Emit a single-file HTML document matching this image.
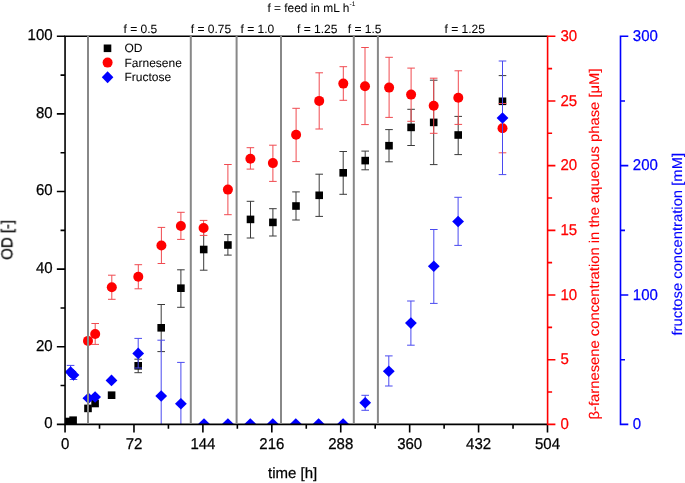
<!DOCTYPE html><html><head><meta charset="utf-8"><style>html,body{margin:0;padding:0;background:#fff;}svg{display:block;}text{font-family:"Liberation Sans",sans-serif;stroke-width:0.25px;text-rendering:geometricPrecision;}text.s{stroke-width:0.05px;}</style></head><body>
<svg width="685" height="483" viewBox="0 0 685 483">
<rect width="685" height="483" fill="#fff"/>
<defs><clipPath id="pc"><rect x="65.05" y="36.3" width="482.45" height="388.05"/></clipPath></defs>
<g clip-path="url(#pc)">
<path d="M138.2 359.2V365.8M134.4 359.2H142M138.2 365.8V372.7M134.4 372.7H142M161.2 304.5V327.8M157.4 304.5H165M161.2 327.8V351.6M157.4 351.6H165M180.9 269.8V288.2M177.1 269.8H184.7M180.9 288.2V307.3M177.1 307.3H184.7M203.7 229V249.5M199.9 229H207.5M203.7 249.5V270.2M199.9 270.2H207.5M227.9 234.6V245M224.1 234.6H231.7M227.9 245V255.1M224.1 255.1H231.7M250.5 201.3V219.4M246.7 201.3H254.3M250.5 219.4V238M246.7 238H254.3M272.9 208.7V222.4M269.1 208.7H276.7M272.9 222.4V236M269.1 236H276.7M296 191.9V206M292.2 191.9H299.8M296 206V220M292.2 220H299.8M319.2 174.2V195.3M315.4 174.2H323M319.2 195.3V216.4M315.4 216.4H323M343.2 151.5V172.8M339.4 151.5H347M343.2 172.8V194.3M339.4 194.3H347M365.2 151.1V160.6M361.4 151.1H369M365.2 160.6V169.8M361.4 169.8H369M389 129.6V145.7M385.2 129.6H392.8M389 145.7V161.8M385.2 161.8H392.8M411.1 109.3V127.4M407.3 109.3H414.9M411.1 127.4V145.5M407.3 145.5H414.9M433.7 80.2V122.4M429.9 80.2H437.5M433.7 122.4V164.6M429.9 164.6H437.5M458.2 116.4V135M454.4 116.4H462M458.2 135V154.6M454.4 154.6H462M502.5 75.6V101.3M498.7 75.6H506.3M502.5 101.3V127M498.7 127H506.3" stroke="#3a3a3a" stroke-opacity="1" stroke-width="1" fill="none"/>
<rect x="64.7" y="417.7" width="7.6" height="7.6" fill="#000000"/>
<rect x="69.3" y="416.4" width="7.6" height="7.6" fill="#000000"/>
<rect x="84.2" y="404.6" width="7.6" height="7.6" fill="#000000"/>
<rect x="91.3" y="399.7" width="7.6" height="7.6" fill="#000000"/>
<rect x="107.8" y="391.4" width="7.6" height="7.6" fill="#000000"/>
<rect x="134.4" y="362" width="7.6" height="7.6" fill="#000000"/>
<rect x="157.4" y="324" width="7.6" height="7.6" fill="#000000"/>
<rect x="177.1" y="284.4" width="7.6" height="7.6" fill="#000000"/>
<rect x="199.9" y="245.7" width="7.6" height="7.6" fill="#000000"/>
<rect x="224.1" y="241.2" width="7.6" height="7.6" fill="#000000"/>
<rect x="246.7" y="215.6" width="7.6" height="7.6" fill="#000000"/>
<rect x="269.1" y="218.6" width="7.6" height="7.6" fill="#000000"/>
<rect x="292.2" y="202.2" width="7.6" height="7.6" fill="#000000"/>
<rect x="315.4" y="191.5" width="7.6" height="7.6" fill="#000000"/>
<rect x="339.4" y="169" width="7.6" height="7.6" fill="#000000"/>
<rect x="361.4" y="156.8" width="7.6" height="7.6" fill="#000000"/>
<rect x="385.2" y="141.9" width="7.6" height="7.6" fill="#000000"/>
<rect x="407.3" y="123.6" width="7.6" height="7.6" fill="#000000"/>
<rect x="429.9" y="118.6" width="7.6" height="7.6" fill="#000000"/>
<rect x="454.4" y="131.2" width="7.6" height="7.6" fill="#000000"/>
<rect x="498.7" y="97.5" width="7.6" height="7.6" fill="#000000"/>
<path d="M95.2 323.5V334M91.4 323.5H99M95.2 334V344.4M91.4 344.4H99M111.8 275.2V287.2M108 275.2H115.6M111.8 287.2V299.3M108 299.3H115.6M138.3 264.7V276.8M134.5 264.7H142.1M138.3 276.8V288.8M134.5 288.8H142.1M161.4 227.4V245.5M157.6 227.4H165.2M161.4 245.5V263.5M157.6 263.5H165.2M180.9 212.3V226M177.1 212.3H184.7M180.9 226V239.4M177.1 239.4H184.7M203.6 220.4V228M199.8 220.4H207.4M203.6 228V235.4M199.8 235.4H207.4M227.9 164.5V189.6M224.1 164.5H231.7M227.9 189.6V214.7M224.1 214.7H231.7M250.4 147.7V158.7M246.6 147.7H254.2M250.4 158.7V169.1M246.6 169.1H254.2M272.9 145.2V163.1M269.1 145.2H276.7M272.9 163.1V181.4M269.1 181.4H276.7M296.1 108.3V134.7M292.3 108.3H299.9M296.1 134.7V161.6M292.3 161.6H299.9M319.2 72.8V100.9M315.4 72.8H323M319.2 100.9V129M315.4 129H323M343.3 66.7V83.6M339.5 66.7H347.1M343.3 83.6V100.3M339.5 100.3H347.1M365 47.5V86.2M361.2 47.5H368.8M365 86.2V124.6M361.2 124.6H368.8M389.1 57.3V87.6M385.3 57.3H392.9M389.1 87.6V117.4M385.3 117.4H392.9M411.1 68.1V94.6M407.3 68.1H414.9M411.1 94.6V121.3M407.3 121.3H414.9M433.7 78.2V105.7M429.9 78.2H437.5M433.7 105.7V133.3M429.9 133.3H437.5M458.3 70.8V97.7M454.5 70.8H462.1M458.3 97.7V124.4M454.5 124.4H462.1M502.5 103.5V128.2M498.7 103.5H506.3M502.5 128.2V152.8M498.7 152.8H506.3" stroke="#f04a50" stroke-opacity="1" stroke-width="1" fill="none"/>
<circle cx="88" cy="340.9" r="5" fill="#ff0000"/>
<circle cx="95.2" cy="334" r="5" fill="#ff0000"/>
<circle cx="111.8" cy="287.2" r="5" fill="#ff0000"/>
<circle cx="138.3" cy="276.8" r="5" fill="#ff0000"/>
<circle cx="161.4" cy="245.5" r="5" fill="#ff0000"/>
<circle cx="180.9" cy="226" r="5" fill="#ff0000"/>
<circle cx="203.6" cy="228" r="5" fill="#ff0000"/>
<circle cx="227.9" cy="189.6" r="5" fill="#ff0000"/>
<circle cx="250.4" cy="158.7" r="5" fill="#ff0000"/>
<circle cx="272.9" cy="163.1" r="5" fill="#ff0000"/>
<circle cx="296.1" cy="134.7" r="5" fill="#ff0000"/>
<circle cx="319.2" cy="100.9" r="5" fill="#ff0000"/>
<circle cx="343.3" cy="83.6" r="5" fill="#ff0000"/>
<circle cx="365" cy="86.2" r="5" fill="#ff0000"/>
<circle cx="389.1" cy="87.6" r="5" fill="#ff0000"/>
<circle cx="411.1" cy="94.6" r="5" fill="#ff0000"/>
<circle cx="433.7" cy="105.7" r="5" fill="#ff0000"/>
<circle cx="458.3" cy="97.7" r="5" fill="#ff0000"/>
<circle cx="502.5" cy="128.2" r="5" fill="#ff0000"/>
<path d="M70.6 365.4V372M66.8 365.4H74.4M73.5 375V379.5M69.7 379.5H77.3M138.2 338.4V353.4M134.4 338.4H142M138.2 353.4V368M134.4 368H142M161.2 340.2V396M157.4 340.2H165M161.2 396V430M180.9 362.4V403.8M177.1 362.4H184.7M180.9 403.8V430M365.2 395.3V402.8M361.4 395.3H369M365.2 402.8V410.3M361.4 410.3H369M388.8 355.9V371.3M385 355.9H392.6M388.8 371.3V386M385 386H392.6M410.9 301V323.1M407.1 301H414.7M410.9 323.1V345.2M407.1 345.2H414.7M433.8 229.5V266.3M430 229.5H437.6M433.8 266.3V303.4M430 303.4H437.6M458.1 197.3V221.5M454.3 197.3H461.9M458.1 221.5V245.4M454.3 245.4H461.9M502.5 61V118M498.7 61H506.3M502.5 118V174.6M498.7 174.6H506.3" stroke="#4a4af0" stroke-opacity="1" stroke-width="1" fill="none"/>
<path d="M70.6 366.2L76.5 372L70.6 377.8L64.7 372Z" fill="#0000ff"/>
<path d="M73.5 369.2L79.4 375L73.5 380.8L67.6 375Z" fill="#0000ff"/>
<path d="M88.4 392.5L94.3 398.3L88.4 404.1L82.5 398.3Z" fill="#0000ff"/>
<path d="M95.1 391.2L101 397L95.1 402.8L89.2 397Z" fill="#0000ff"/>
<path d="M111.5 374.6L117.4 380.4L111.5 386.2L105.6 380.4Z" fill="#0000ff"/>
<path d="M138.2 347.6L144.1 353.4L138.2 359.2L132.3 353.4Z" fill="#0000ff"/>
<path d="M161.2 390.2L167.1 396L161.2 401.8L155.3 396Z" fill="#0000ff"/>
<path d="M180.9 398L186.8 403.8L180.9 409.6L175 403.8Z" fill="#0000ff"/>
<path d="M204 418.2L209.9 424L204 429.8L198.1 424Z" fill="#0000ff"/>
<path d="M227.9 418.2L233.8 424L227.9 429.8L222 424Z" fill="#0000ff"/>
<path d="M250.3 418.2L256.2 424L250.3 429.8L244.4 424Z" fill="#0000ff"/>
<path d="M272.8 418.2L278.7 424L272.8 429.8L266.9 424Z" fill="#0000ff"/>
<path d="M295.8 418.2L301.7 424L295.8 429.8L289.9 424Z" fill="#0000ff"/>
<path d="M318.6 418.2L324.5 424L318.6 429.8L312.7 424Z" fill="#0000ff"/>
<path d="M343.1 418.2L349 424L343.1 429.8L337.2 424Z" fill="#0000ff"/>
<path d="M365.2 397L371.1 402.8L365.2 408.6L359.3 402.8Z" fill="#0000ff"/>
<path d="M388.8 365.5L394.7 371.3L388.8 377.1L382.9 371.3Z" fill="#0000ff"/>
<path d="M410.9 317.3L416.8 323.1L410.9 328.9L405 323.1Z" fill="#0000ff"/>
<path d="M433.8 260.5L439.7 266.3L433.8 272.1L427.9 266.3Z" fill="#0000ff"/>
<path d="M458.1 215.7L464 221.5L458.1 227.3L452.2 221.5Z" fill="#0000ff"/>
<path d="M502.5 112.2L508.4 118L502.5 123.8L496.6 118Z" fill="#0000ff"/>
</g>
<path d="M64.25 424.35H547.5 M65.05 35.5V425.15 M64.25 36.3H547.5" stroke="#000000" stroke-width="1.6" fill="none"/>
<path d="M56.85 424.35H65.05M60.55 385.545H65.05M56.85 346.74H65.05M60.55 307.935H65.05M56.85 269.13H65.05M60.55 230.325H65.05M56.85 191.52H65.05M60.55 152.715H65.05M56.85 113.91H65.05M60.55 75.105H65.05M56.85 36.3H65.05M65.05 424.35V432.55M99.5107 424.35V428.85M133.971 424.35V432.55M168.432 424.35V428.85M202.893 424.35V432.55M237.354 424.35V428.85M271.814 424.35V432.55M306.275 424.35V428.85M340.736 424.35V432.55M375.196 424.35V428.85M409.657 424.35V432.55M444.118 424.35V428.85M478.579 424.35V432.55M513.039 424.35V428.85M547.5 424.35V432.55" stroke="#000000" stroke-width="1.6" fill="none"/>
<path d="M88 35.5V423.55M190.8 35.5V423.55M236.6 35.5V423.55M281 35.5V423.55M353.8 35.5V423.55M377.9 35.5V423.55" stroke="#888888" stroke-width="2" fill="none"/>
<path d="M547.6 35.5V425.15M547.6 424.35H555.4M547.6 392.013H552.1M547.6 359.675H555.4M547.6 327.338H552.1M547.6 295H555.4M547.6 262.663H552.1M547.6 230.325H555.4M547.6 197.988H552.1M547.6 165.65H555.4M547.6 133.312H552.1M547.6 100.975H555.4M547.6 68.6375H552.1M547.6 36.3H555.4" stroke="#ff0000" stroke-width="1.6" fill="none"/>
<path d="M620.5 35.5V425.15M620.5 424.35H628.3M620.5 359.675H625M620.5 295H628.3M620.5 230.325H625M620.5 165.65H628.3M620.5 100.975H625M620.5 36.3H628.3" stroke="#0000ff" stroke-width="1.6" fill="none"/>
<g opacity="0.999">
<text transform="translate(52.6 428.25) scale(1 1.04)" font-size="15" text-anchor="end" fill="#000000" stroke="#000000">0</text>
<text transform="translate(52.6 350.64) scale(1 1.04)" font-size="15" text-anchor="end" fill="#000000" stroke="#000000">20</text>
<text transform="translate(52.6 273.03) scale(1 1.04)" font-size="15" text-anchor="end" fill="#000000" stroke="#000000">40</text>
<text transform="translate(52.6 195.42) scale(1 1.04)" font-size="15" text-anchor="end" fill="#000000" stroke="#000000">60</text>
<text transform="translate(52.6 117.81) scale(1 1.04)" font-size="15" text-anchor="end" fill="#000000" stroke="#000000">80</text>
<text transform="translate(52.6 40.2) scale(1 1.04)" font-size="15" text-anchor="end" fill="#000000" stroke="#000000">100</text>
<text transform="translate(65.05 448.6) scale(1 1.04)" font-size="15" text-anchor="middle" fill="#000000" stroke="#000000">0</text>
<text transform="translate(133.971 448.6) scale(1 1.04)" font-size="15" text-anchor="middle" fill="#000000" stroke="#000000">72</text>
<text transform="translate(202.893 448.6) scale(1 1.04)" font-size="15" text-anchor="middle" fill="#000000" stroke="#000000">144</text>
<text transform="translate(271.814 448.6) scale(1 1.04)" font-size="15" text-anchor="middle" fill="#000000" stroke="#000000">216</text>
<text transform="translate(340.736 448.6) scale(1 1.04)" font-size="15" text-anchor="middle" fill="#000000" stroke="#000000">288</text>
<text transform="translate(409.657 448.6) scale(1 1.04)" font-size="15" text-anchor="middle" fill="#000000" stroke="#000000">360</text>
<text transform="translate(478.579 448.6) scale(1 1.04)" font-size="15" text-anchor="middle" fill="#000000" stroke="#000000">432</text>
<text transform="translate(547.5 448.6) scale(1 1.04)" font-size="15" text-anchor="middle" fill="#000000" stroke="#000000">504</text>
<text transform="translate(560.4 428.95) scale(1 1.04)" font-size="15" fill="#ff0000" stroke="#ff0000">0</text>
<text transform="translate(560.4 364.275) scale(1 1.04)" font-size="15" fill="#ff0000" stroke="#ff0000">5</text>
<text transform="translate(560.4 299.6) scale(1 1.04)" font-size="15" fill="#ff0000" stroke="#ff0000">10</text>
<text transform="translate(560.4 234.925) scale(1 1.04)" font-size="15" fill="#ff0000" stroke="#ff0000">15</text>
<text transform="translate(560.4 170.25) scale(1 1.04)" font-size="15" fill="#ff0000" stroke="#ff0000">20</text>
<text transform="translate(560.4 105.575) scale(1 1.04)" font-size="15" fill="#ff0000" stroke="#ff0000">25</text>
<text transform="translate(560.4 40.9) scale(1 1.04)" font-size="15" fill="#ff0000" stroke="#ff0000">30</text>
<text transform="translate(632.8 428.95) scale(1 1.04)" font-size="15" fill="#0000ff" stroke="#0000ff">0</text>
<text transform="translate(632.8 299.6) scale(1 1.04)" font-size="15" fill="#0000ff" stroke="#0000ff">100</text>
<text transform="translate(632.8 170.25) scale(1 1.04)" font-size="15" fill="#0000ff" stroke="#0000ff">200</text>
<text transform="translate(632.8 40.9) scale(1 1.04)" font-size="15" fill="#0000ff" stroke="#0000ff">300</text>
<text x="268" y="478" font-size="15" fill="#000000" stroke="#000000">time [h]</text>
<text transform="translate(12.2 259.8) rotate(-90) scale(1 1.06)" font-size="15" style="stroke-width:0.25px" fill="#000000" stroke="#000000">OD [-]</text>
<text transform="translate(599.3 419.5) rotate(-90) scale(1 0.95)" font-size="14.8" style="stroke-width:0.15px" fill="#ff0000" stroke="#ff0000">&#946;-farnesene concentration in the aqueous phase [&#956;M]</text>
<text transform="translate(682.0 335.5) rotate(-90) scale(1 0.96)" font-size="14.8" style="stroke-width:0.15px" fill="#0000ff" stroke="#0000ff">fructose concentration [mM]</text>
<text class="s" x="267.4" y="12" font-size="11.9" fill="#000000" stroke="#000000">f = feed in mL h<tspan font-size="6.5" dy="-6.3" dx="0.3">-1</tspan></text>
<text class="s" x="123.6" y="32.6" font-size="12" fill="#000000" stroke="#000000">f = 0.5</text>
<text class="s" x="190.8" y="32.6" font-size="12" fill="#000000" stroke="#000000">f = 0.75</text>
<text class="s" x="240.6" y="32.6" font-size="12" fill="#000000" stroke="#000000">f = 1.0</text>
<text class="s" x="297" y="32.6" font-size="12" fill="#000000" stroke="#000000">f = 1.25</text>
<text class="s" x="347.8" y="32.6" font-size="12" fill="#000000" stroke="#000000">f = 1.5</text>
<text class="s" x="444.6" y="32.6" font-size="12" fill="#000000" stroke="#000000">f = 1.25</text>
<rect x="103.7" y="44.5" width="7.6" height="7.6" fill="#000"/>
<circle cx="107.6" cy="62.6" r="5" fill="#ff0000"/>
<path d="M107.6 71.2L113.4 77.2L107.6 83.2L101.8 77.2Z" fill="#0000ff"/>
<text class="s" x="124.5" y="52.2" font-size="12" fill="#000000" stroke="#000000">OD</text>
<text class="s" x="124.5" y="66.8" font-size="12" fill="#000000" stroke="#000000">Farnesene</text>
<text class="s" x="124.5" y="80.9" font-size="12" fill="#000000" stroke="#000000">Fructose</text>
</g>
</svg></body></html>
